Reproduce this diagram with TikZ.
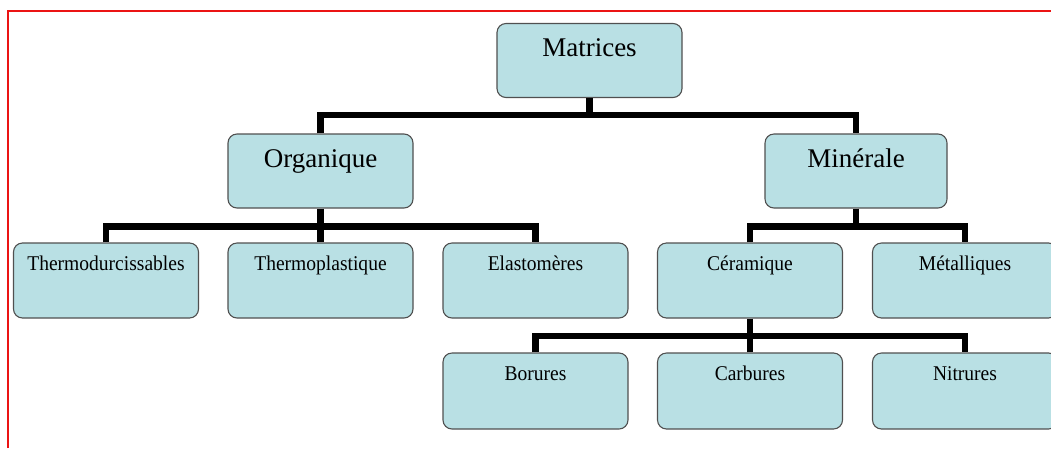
\documentclass[tikz,border=0pt]{standalone}
\usepackage{fontspec}
\usepackage{graphicx}
\setmainfont{Liberation Serif}
\definecolor{boxfill}{RGB}{185,224,228}
\definecolor{boxline}{RGB}{80,80,80}
\definecolor{framered}{RGB}{235,20,20}
\newcommand{\topfont}{\fontsize{27}{30}\selectfont}
\newcommand{\lowfont}{\fontsize{21}{24}\selectfont}
\newcommand{\cnd}[1]{\scalebox{0.93}[1]{#1}}
\begin{document}
\begin{tikzpicture}[x=1pt,y=-1pt,
  box/.style={draw=boxline, line width=1.1pt, fill=boxfill, rounded corners=9pt,
    rectangle, inner sep=0pt, minimum width=185pt, text=black},
  upper/.style={box, font=\topfont, text height=33pt, text depth=41pt, minimum height=74pt},
  lower/.style={box, font=\lowfont, text height=27pt, text depth=48pt, minimum height=75pt},
  conn/.style={draw=black, line width=6.5pt, line join=miter}]
\useasboundingbox (0,0) rectangle (1051,448);
% frame
\draw[framered, line width=2pt] (8.3,448) -- (8.3,10.5) -- (1051,10.5);
% nodes
\node[upper] (mat) at (589.5,60.5) {Matrices};
\node[upper] (org) at (320.5,171) {Organique};
\node[upper, minimum width=182pt] (min) at (856,171) {Minérale};
\node[lower] (thd) at (106,280.5) {\cnd{Thermodurcissables}};
\node[lower] (thp) at (320.5,280.5) {\cnd{Thermoplastique}};
\node[lower] (ela) at (535.5,280.5) {\cnd{Elastomères}};
\node[lower] (cer) at (750,280.5) {\cnd{Céramique}};
\node[lower] (met) at (965,280.5) {\cnd{Métalliques}};
\node[lower, text depth=49pt, minimum height=76pt] (bor) at (535.5,391) {\cnd{Borures}};
\node[lower, text depth=49pt, minimum height=76pt] (car) at (750,391) {\cnd{Carbures}};
\node[lower, text depth=49pt, minimum height=76pt] (nit) at (965,391) {\cnd{Nitrures}};
% bar junctions
\coordinate (j1) at (589.5,115);
\coordinate (j2) at (320.5,226.5);
\coordinate (j3) at (856,226.5);
\coordinate (j4) at (750,336);
% connectors
\draw[conn] (mat.south) -- (j1);
\draw[conn] (org.north) |- (j1) -| (min.north);
\draw[conn] (org.south) -- (j2);
\draw[conn] (thd.north) |- (j2) -| (ela.north);
\draw[conn] (thp.north) -- (j2);
\draw[conn] (min.south) -- (j3);
\draw[conn] (cer.north) |- (j3) -| (met.north);
\draw[conn] (cer.south) -- (j4);
\draw[conn] (bor.north) |- (j4) -| (nit.north);
\draw[conn] (car.north) -- (j4);
\end{tikzpicture}
\end{document}
